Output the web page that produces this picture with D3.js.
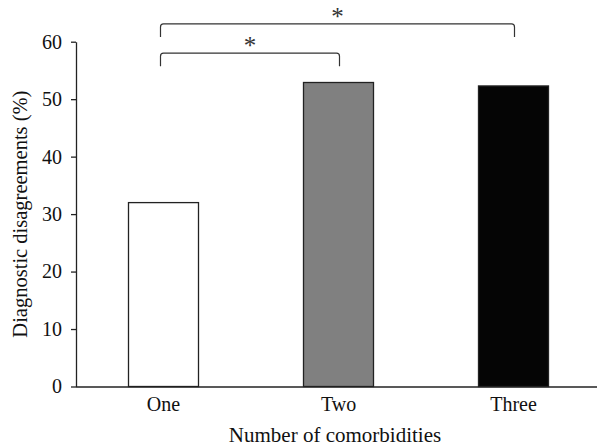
<!DOCTYPE html>
<html>
<head>
<meta charset="utf-8">
<script src="https://d3js.org/d3.v7.min.js"></script>
<style>
  body { margin: 0; background: #fff; }
  svg text { font-family: "Liberation Serif", "DejaVu Serif", serif; fill: #111; }
  .axis path, .axis line { stroke: #222; stroke-width: 1.3; }
</style>
</head>
<body>
<div id="chart"></div>
<script>
// data
var categories = ["One", "Two", "Three"];
var values = [32.0, 52.9, 52.3];
var barColors = ["#ffffff", "#808080", "#050505"];
var yTicks = [0, 10, 20, 30, 40, 50, 60];
// significance brackets: from/to category, level in y units
var bracketFrom = ["One", "One"];
var bracketTo = ["Two", "Three"];
var bracketLevel = [58, 63.1];
var bracketLabel = ["*", "*"];

var width = 597, height = 448;

var svg = d3.select("#chart").append("svg")
  .attr("width", width)
  .attr("height", height);

var x = d3.scaleBand()
  .domain(categories)
  .range([76, 601])
  .paddingInner(0.6)
  .paddingOuter(0.3);

var y = d3.scaleLinear().domain([0, 60]).range([386.5, 41.7]);

// bars
svg.selectAll("rect.bar")
  .data(values)
  .enter()
  .append("rect")
  .attr("class", "bar")
  .attr("x", function(d, i) { return x(categories[i]); })
  .attr("width", x.bandwidth())
  .attr("y", function(d) { return y(d); })
  .attr("height", function(d) { return y(0) - y(d); })
  .attr("fill", function(d, i) { return barColors[i]; })
  .attr("stroke", "#222")
  .attr("stroke-width", 1.3);

// y axis
var yAxis = svg.append("g")
  .attr("class", "axis")
  .attr("transform", "translate(76,0)")
  .call(d3.axisLeft(y).tickValues(yTicks).tickSize(5).tickSizeOuter(0).tickPadding(9));
yAxis.selectAll("text").style("font-size", "20px");

// x axis
var xAxis = svg.append("g")
  .attr("class", "axis")
  .attr("transform", "translate(0," + y(0) + ")")
  .call(d3.axisBottom(x).tickSize(0).tickSizeOuter(0).tickPadding(10));
xAxis.selectAll("text").style("font-size", "20px");
xAxis.select(".domain").attr("d", "M76,0.5H597");

// axis titles
svg.append("text")
  .attr("x", 335)
  .attr("y", 442)
  .attr("text-anchor", "middle")
  .style("font-size", "21px")
  .text("Number of comorbidities");

svg.append("text")
  .attr("transform", "translate(27," + ((y(0) + y(60)) / 2) + ") rotate(-90)")
  .attr("text-anchor", "middle")
  .style("font-size", "20.5px")
  .text("Diagnostic disagreements (%)");

// significance brackets
var leg = 13, r = 3;
bracketFrom.forEach(function(from, i) {
  var x1 = x(from) + x.bandwidth() / 2 - 3;
  var x2 = x(bracketTo[i]) + x.bandwidth() / 2 + 1;
  var yt = y(bracketLevel[i]);
  var p = d3.path();
  p.moveTo(x1, yt + leg);
  p.lineTo(x1, yt + r);
  p.quadraticCurveTo(x1, yt, x1 + r, yt);
  p.lineTo(x2 - r, yt);
  p.quadraticCurveTo(x2, yt, x2, yt + r);
  p.lineTo(x2, yt + leg);
  svg.append("path")
    .attr("d", p.toString())
    .attr("fill", "none")
    .attr("stroke", "#333")
    .attr("stroke-width", 1.2);
  svg.append("text")
    .attr("x", (x1 + x2) / 2)
    .attr("y", yt + 1)
    .attr("text-anchor", "middle")
    .style("font-size", "25px")
    .style("fill", "#333")
    .text(bracketLabel[i]);
});
</script>
</body>
</html>
